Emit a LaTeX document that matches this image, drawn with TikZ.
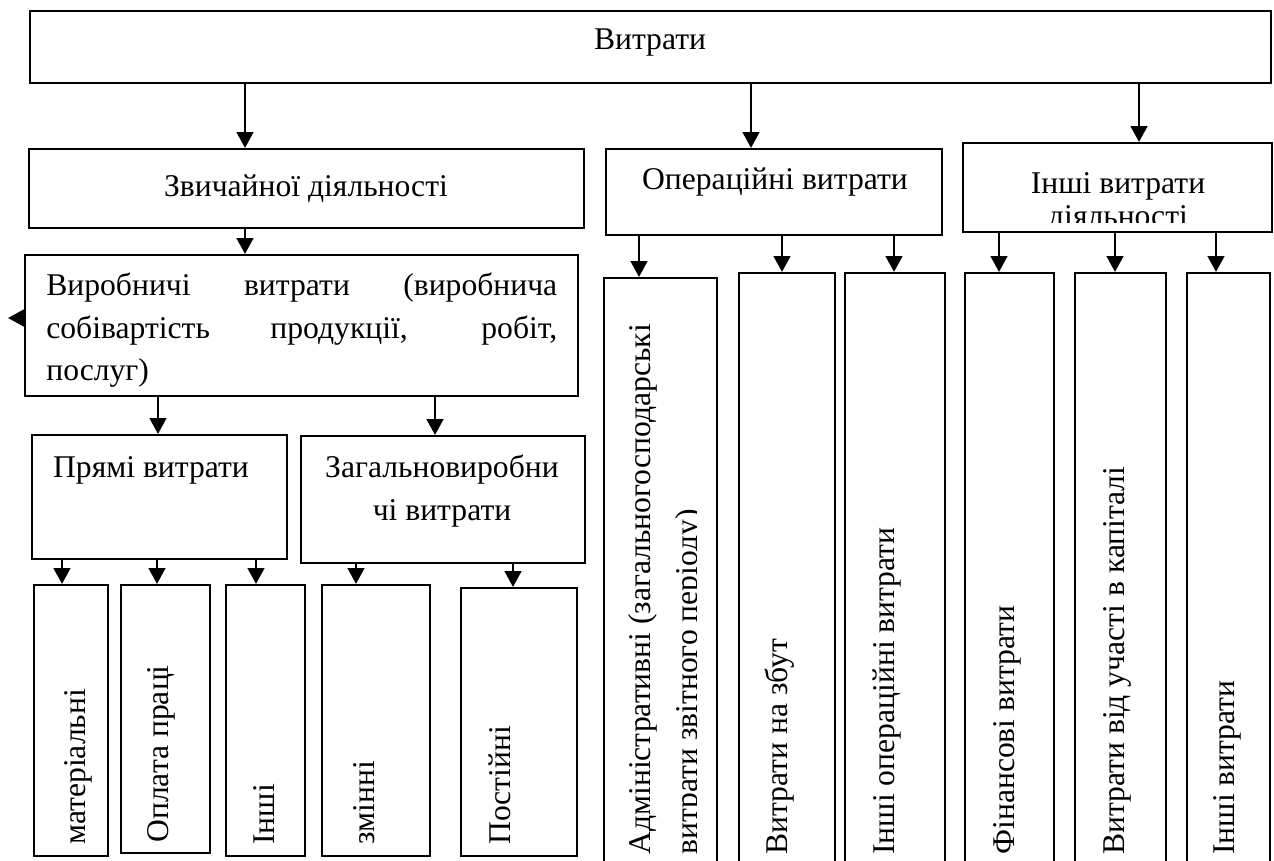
\documentclass[tikz,border=0pt]{standalone}
\usepackage{fontspec}
\setmainfont{Liberation Serif}
\usetikzlibrary{arrows.meta}
\hyphenpenalty=10000
\exhyphenpenalty=10000

\begin{document}
\begin{tikzpicture}[x=0.02cm, y=-0.02cm,
    box/.style 2 args={draw, line width=1.2pt, inner sep=0pt,
        minimum width=#1*0.02cm, minimum height=#2*0.02cm},
    arr/.style={-{Triangle[length=9pt, width=9.5pt]}, line width=1.2pt},
    txt/.style={inner sep=0pt, font=\fontsize{18}{24}\selectfont},
    vtxt/.style={txt, rotate=90, anchor=west}]
    % Frame
    \useasboundingbox (0,0) rectangle (1274,861);
    \clip (0,0) rectangle (1274,861);

    % Top level
    \node[box={1241}{72}] (vytraty) at (650.5,47) {};
    \node[txt, anchor=base] (t-vytraty) at (650,50) {Витрати};

    % Second level
    \node[box={555}{79}] (zvych) at (306.5,188.5) {};
    \node[txt, anchor=base] (t-zvych) at (306,197) {Звичайної діяльності};
    \node[box={336}{86}] (oper) at (774,192) {};
    \node[txt, anchor=base] (t-oper) at (775,190) {Операційні витрати};
    \node[box={309}{89}] (inshi) at (1117.5,187.5) {};
    \begin{scope}
        \clip (inshi.north west) rectangle (inshi.east |- 0,223);
        \node[txt, anchor=north, align=center, font=\fontsize{18}{19}\selectfont]
            (t-inshi) at (1118,172) {Інші витрати\\діяльності};
    \end{scope}

    % Production costs
    \node[box={553}{141}] (vyrob) at (301.5,325.5) {};
    \node[txt, anchor=north west, text width=10.22cm, align=justify] (t-vyrob) at (46,273)
        {Виробничі витрати (виробнича\linebreak собівартість продукції, робіт,\linebreak послуг)};
    \coordinate (stray) at (8,318);
    \draw[arr] (vyrob.west |- stray) -- (stray);

    \node[box={255}{124}] (priami) at (159.5,497) {};
    \node[txt, anchor=base] (t-priami) at (151,477) {Прямі витрати};
    \node[box={284}{127}] (zahal) at (443,499.5) {};
    \node[txt, anchor=north, align=center] (t-zahal) at (442,455) {Загальновиробни\\чі витрати};

    % Bottom left
    \node[box={74}{271}] (mat) at (71,720.5) {};
    \node[vtxt] (t-mat) at (78,845) {матеріальні};
    \node[box={89}{268}] (opl) at (165.5,719) {};
    \node[vtxt] (t-opl) at (161,843) {Оплата праці};
    \node[box={79}{271}] (insh) at (265.5,720.5) {};
    \node[vtxt] (t-insh) at (264,845) {Інші};
    \node[box={108}{271}] (zmin) at (376,720.5) {};
    \node[vtxt] (t-zmin) at (364,845) {змінні};
    \node[box={116}{268}] (post) at (519,722) {};
    \node[vtxt] (t-post) at (500,845) {Постійні};

    % Bottom right
    \node[box={113}{622}] (adm) at (660.5,589) {};
    \begin{scope}
        \clip (adm.north west) rectangle (adm.south -| 696,0);
        \node[vtxt, align=left, font=\fontsize{18}{26.7}\selectfont] (t-adm) at (666.5,855)
            {Адміністративні (загальногосподарські\\витрати звітного періоду)};
    \end{scope}
    \node[box={96}{627}] (zbut) at (787,586.5) {};
    \node[vtxt] (t-zbut) at (780,855) {Витрати на збут};
    \node[box={100}{627}] (insop) at (895,586.5) {};
    \node[vtxt] (t-insop) at (887,855) {Інші операційні витрати};
    \node[box={89}{627}] (fin) at (1009.5,586.5) {};
    \node[vtxt] (t-fin) at (1007,855) {Фінансові витрати};
    \node[box={91}{627}] (uchast) at (1120.5,586.5) {};
    \node[vtxt] (t-uchast) at (1117,855) {Витрати від участі в капіталі};
    \node[box={83}{627}] (inshv) at (1228.5,586.5) {};
    \node[vtxt] (t-inshv) at (1227,855) {Інші витрати};

    % Arrows from the top
    \draw[arr] (245,0 |- vytraty.south) -- (245,0 |- zvych.north);
    \draw[arr] (751,0 |- vytraty.south) -- (751,0 |- oper.north);
    \draw[arr] (1139,0 |- vytraty.south) -- (1139,0 |- inshi.north);

    % Arrows, left branch
    \draw[arr] (245,0 |- zvych.south) -- (245,0 |- vyrob.north);
    \draw[arr] (158,0 |- vyrob.south) -- (158,0 |- priami.north);
    \draw[arr] (435,0 |- vyrob.south) -- (435,0 |- zahal.north);
    \draw[arr] (62,0 |- priami.south) -- (62,0 |- mat.north);
    \draw[arr] (157,0 |- priami.south) -- (157,0 |- opl.north);
    \draw[arr] (256,0 |- priami.south) -- (256,0 |- insh.north);
    \draw[arr] (356,0 |- zahal.south) -- (356,0 |- zmin.north);
    \draw[arr] (513,0 |- zahal.south) -- (513,0 |- post.north);

    % Arrows, right branches
    \draw[arr] (639,0 |- oper.south) -- (639,0 |- adm.north);
    \draw[arr] (782,0 |- oper.south) -- (782,0 |- zbut.north);
    \draw[arr] (894,0 |- oper.south) -- (894,0 |- insop.north);
    \draw[arr] (999,0 |- inshi.south) -- (999,0 |- fin.north);
    \draw[arr] (1115,0 |- inshi.south) -- (1115,0 |- uchast.north);
    \draw[arr] (1216,0 |- inshi.south) -- (1216,0 |- inshv.north);
\end{tikzpicture}
\end{document}
